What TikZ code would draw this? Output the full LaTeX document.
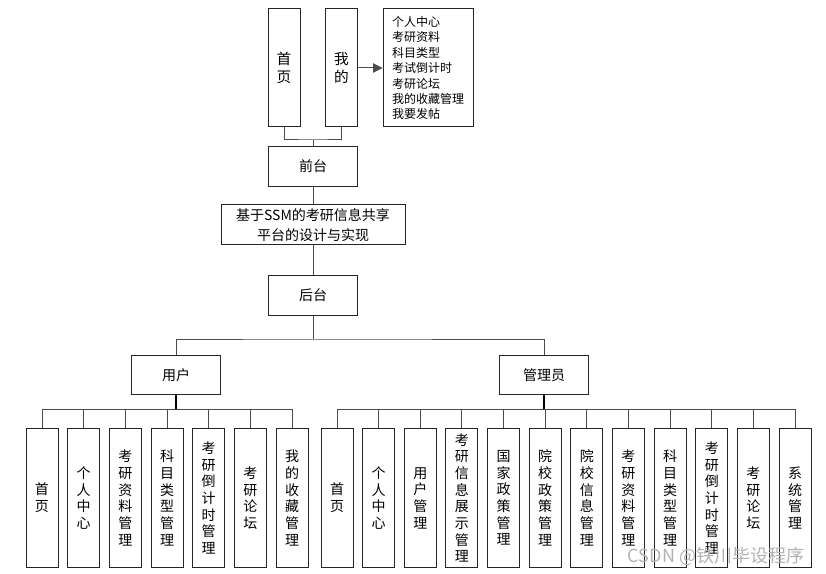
\documentclass[tikz,border=0pt]{standalone}
\usepackage{fontspec}
\setmainfont{Noto Sans CJK SC}
\usetikzlibrary{arrows.meta}

\begin{document}
\begin{tikzpicture}[x=0.75pt,y=-0.75pt,
    box/.style={draw=black!85,line width=0.75pt,inner sep=0pt,align=center,
      font=\fontsize{10.5}{15}\selectfont},
    widebox/.style={box,minimum width=67pt,minimum height=29.5pt},
    leaf/.style={box,minimum width=24pt,minimum height=104pt,
      font=\fontsize{10.5}{12.5}\selectfont},
    link/.style={draw=black!70,line width=0.75pt}]
  \useasboundingbox (0,0) rectangle (826,574);

  % Front end
  \node[box,minimum width=24pt,minimum height=88.5pt,font=\fontsize{11}{13.5}\selectfont]
    (shouye) at (284,68) {首\\页};
  \node[box,minimum width=23.5pt,minimum height=88.5pt,font=\fontsize{11}{13.5}\selectfont]
    (wode) at (341.5,68) {我\\的};
  \node[box,minimum width=67.5pt,minimum height=88.5pt,align=left,
    font=\fontsize{9}{11.6}\selectfont] (menu) at (428,68)
    {个人中心\\考研资料\\科目类型\\考试倒计时\\考研论坛\\我的收藏管理\\我要发帖};
  \node[widebox] (qiantai) at (313,166.5) {前台};

  % Title and back end
  \node[box,minimum width=138pt,minimum height=30pt] (title) at (313,225)
    {基于SSM的考研信息共享\\平台的设计与实现};
  \node[widebox] (houtai) at (313,295.5) {后台};
  \node[widebox] (yonghu) at (176,375) {用户};
  \node[widebox] (guanli) at (544,375) {管理员};

  % Leaves
  \foreach \t [count=\i from 0] in {{首\\页},{个\\人\\中\\心},{考\\研\\资\\料\\管\\理},
      {科\\目\\类\\型\\管\\理},{考\\研\\倒\\计\\时\\管\\理},{考\\研\\论\\坛},
      {我\\的\\收\\藏\\管\\理}}
    \node[leaf] (u\i) at (42+41.67*\i,498) {\t};
  \foreach \t [count=\i from 0] in {{首\\页},{个\\人\\中\\心},{用\\户\\管\\理},
      {考\\研\\信\\息\\展\\示\\管\\理},{国\\家\\政\\策\\管\\理},{院\\校\\政\\策\\管\\理},
      {院\\校\\信\\息\\管\\理},{考\\研\\资\\料\\管\\理},{科\\目\\类\\型\\管\\理},
      {考\\研\\倒\\计\\时\\管\\理},{考\\研\\论\\坛},{系\\统\\管\\理}}
    \node[leaf] (a\i) at (337+41.64*\i,498) {\t};

  % Connectors
  \coordinate (fork) at (313,140);
  \coordinate (bus) at (313,340);
  \coordinate (ubus) at (176,410);
  \coordinate (abus) at (544,410);
  \draw[link] (shouye.south) |- (fork) -| (wode.south);
  \draw[link] (fork) -- (qiantai.north);
  \draw[link,-{Triangle[length=7pt,width=7pt]}] (wode.east) -- (menu.west);
  \draw[link] (qiantai.south) -- (title.north);
  \draw[link] (title.south) -- (houtai.north);
  \draw[link] (houtai.south) -- (bus);
  \draw[link] (yonghu.north) |- (bus) -| (guanli.north);
  \draw[link,line width=1.1pt,draw=black] (yonghu.south) -- (ubus);
  \draw[link,line width=1.1pt,draw=black] (guanli.south) -- (abus);
  \foreach \i in {0,...,6}
    \draw[link] (ubus) -| (u\i.north);
  \foreach \i in {0,...,11}
    \draw[link] (abus) -| (a\i.north);

  % Watermark
  \node[text=black!30,font=\fontsize{13.5}{15}\selectfont] (mark) at (716,556)
    {CSDN @铁川毕设程序};
\end{tikzpicture}
\end{document}
